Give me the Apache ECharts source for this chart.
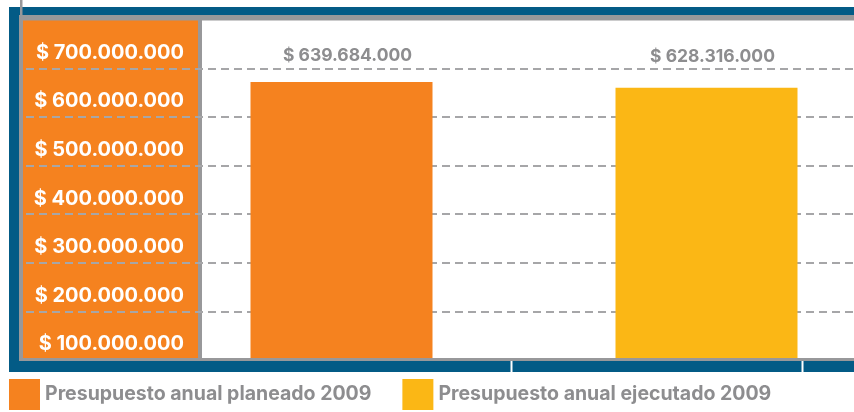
<!DOCTYPE html>
<html>
<head>
<meta charset="utf-8">
<script src="https://cdn.jsdelivr.net/npm/echarts@6/dist/echarts.min.js"></script>
<style>
  html, body { margin: 0; padding: 0; background: #fff; }
  #chart { width: 854px; height: 412px; }
</style>
</head>
<body>
<div id="chart"></div>
<script>
var categories = ['Presupuesto anual planeado 2009', 'Presupuesto anual ejecutado 2009'];
var planeado = [639684000, '-'];
var ejecutado = ['-', 628316000];
var tickValues = [100000000, 200000000, 300000000, 400000000, 500000000, 600000000, 700000000];

var azul = '#035b86';
var naranja = '#f5821f';
var amarillo = '#fbb715';
var gris = '#98989a';
var grisTexto = '#8d8d8f';
var fuente = 'Inter';

function fmt(v) {
  return '$ ' + String(v).replace(/\B(?=(\d{3})+(?!\d))/g, '.');
}

var chartDom = document.getElementById('chart');
var myChart = echarts.init(chartDom);

function barLabel(dist) {
  return {
    show: true,
    position: 'top',
    distance: dist,
    offset: [6, 0],
    color: grisTexto,
    fontFamily: fuente,
    fontWeight: 'bold',
    fontSize: 17.5,
    formatter: function (p) { return fmt(p.value); }
  };
}

var option = {
  animation: false,
  graphic: [
    // marco azul y borde gris
    { type: 'rect', z: -10, shape: { x: 9, y: 7, width: 845, height: 8 }, style: { fill: azul } },
    { type: 'rect', z: -10, shape: { x: 9, y: 7, width: 10, height: 365 }, style: { fill: azul } },
    { type: 'rect', z: -10, shape: { x: 9, y: 361, width: 845, height: 11 }, style: { fill: azul } },
    { type: 'rect', z: -10, shape: { x: 19, y: 15, width: 835, height: 346 }, style: { fill: gris } },
    { type: 'rect', z: -10, shape: { x: 20, y: 0, width: 2.5, height: 15 }, style: { fill: gris } },
    { type: 'rect', z: -9, shape: { x: 23, y: 20.5, width: 175, height: 337.5 }, style: { fill: naranja } },
    { type: 'rect', z: -9, shape: { x: 202, y: 20.5, width: 652, height: 337.5 }, style: { fill: '#ffffff' } },
    { type: 'rect', z: -9, shape: { x: 510.5, y: 361, width: 2, height: 11 }, style: { fill: '#ffffff' } },
    { type: 'rect', z: -9, shape: { x: 801.5, y: 361, width: 2, height: 11 }, style: { fill: '#ffffff' } }
  ],
  legend: {
    left: 9,
    top: 379,
    padding: 0,
    itemWidth: 31,
    itemHeight: 31,
    itemGap: 31,
    icon: 'rect',
    data: categories,
    textStyle: {
      color: grisTexto,
      fontFamily: fuente,
      fontWeight: 'bold',
      fontSize: 19.5
    }
  },
  grid: [
    { left: 159, right: -35, top: 20, bottom: 54, outerBoundsMode: 'none' },
    { left: 26, right: 0, top: 20, bottom: 54, outerBoundsMode: 'none' }
  ],
  xAxis: [
    { type: 'category', gridIndex: 0, data: categories, show: false },
    { type: 'value', gridIndex: 1, min: 0, max: 1, show: false }
  ],
  yAxis: [
    {
      type: 'value',
      gridIndex: 0,
      min: 72.0e6,
      max: 767.5e6,
      splitNumber: 7,
      offset: -39,
      axisLine: { show: false },
      axisTick: { show: false },
      splitLine: { show: false },
      axisLabel: {
        showMinLabel: false,
        showMaxLabel: false,
        margin: 14,
        color: '#ffffff',
        fontFamily: fuente,
        fontWeight: 'bold',
        fontSize: 20,
        formatter: function (v) {
          return tickValues.indexOf(v) >= 0 ? fmt(v) : '';
        }
      }
    },
    {
      // líneas guía punteadas, desplazadas respecto a las etiquetas
      type: 'value',
      gridIndex: 1,
      min: 103.9e6,
      max: 799.4e6,
      splitNumber: 7,
      axisLine: { show: false },
      axisTick: { show: false },
      axisLabel: { show: false },
      splitLine: {
        show: true,
        showMinLine: false,
        showMaxLine: false,
        lineStyle: { color: '#a6a6a8', width: 2, type: [8, 5] }
      }
    }
  ],
  series: [
    {
      name: categories[0],
      type: 'bar',
      xAxisIndex: 0,
      yAxisIndex: 0,
      data: planeado,
      barWidth: 182,
      barGap: '-100%',
      itemStyle: { color: naranja },
      label: barLabel(17)
    },
    {
      name: categories[1],
      type: 'bar',
      xAxisIndex: 0,
      yAxisIndex: 0,
      data: ejecutado,
      barWidth: 182,
      barGap: '-100%',
      itemStyle: { color: amarillo },
      label: barLabel(22)
    }
  ]
};

myChart.setOption(option);

window.onresize = () => {
  myChart.resize();
};
</script>
</body>
</html>
